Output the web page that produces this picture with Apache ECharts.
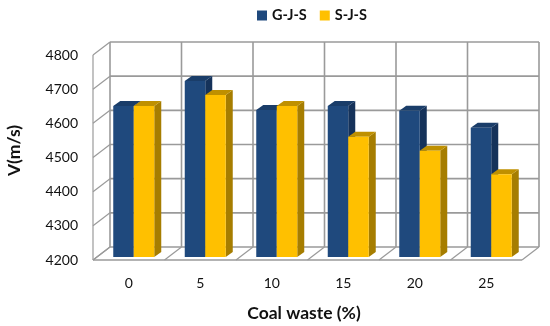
<!DOCTYPE html>
<html><head><meta charset="utf-8">
<style>html,body{margin:0;padding:0;background:#fff}#c{width:550px;height:326px}</style>
<script src="https://cdn.jsdelivr.net/npm/echarts@6/dist/echarts.min.js"></script>
</head><body><div id="c"></div>
<script>
const categories = ['0','5','10','15','20','25'];
const gjs = [4642,4715,4630,4642,4628,4578];
const sjs = [4642,4674,4642,4552,4511,4442];
const yTicks = [4200,4300,4400,4500,4600,4700,4800];
const boundaries = [0,1,2,3,4,5,6];
const DX = 17, DY = -13, GRID = '#9a9a9a';

const chart = echarts.init(document.getElementById('c'));

function line(p, q, w) {
  return {type:'line', shape:{x1:p[0],y1:p[1],x2:q[0],y2:q[1]}, style:{stroke:GRID,lineWidth:w}};
}
function xAt(api, b) {
  return api.coord([0, 4200])[0] + (b - 0.5) * api.size([1, 0])[0];
}
function renderTick(params, api) {
  const v = api.value(0);
  const y = api.coord([0, v])[1];
  const x0 = xAt(api, 0), x1 = xAt(api, 6);
  const kids = [
    line([x0, y], [x0 + DX, y + DY], 1.2),
    line([x0 + DX, y + DY], [x1 + DX, y + DY], 1.6)
  ];
  if (v === 4200) kids.push(line([x0, y], [x1, y], 1.6));
  return {type:'group', children:kids};
}
function renderBoundary(params, api) {
  const b = api.value(0);
  const x = xAt(api, b);
  const yb = api.coord([0, 4200])[1], yt = api.coord([0, 4800])[1];
  const kids = [
    line([x + DX, yb + DY], [x + DX, yt + DY], 1.6),
    line([x, yb], [x + DX, yb + DY], 1.2)
  ];
  if (b === 0) kids.push(line([x, yb], [x, yt], 1.2));
  return {type:'group', children:kids};
}
function barRenderer(slot, front, top, side) {
  return function (params, api) {
    const c = api.coord([api.value(0), api.value(1)]);
    const base = api.coord([api.value(0), 4200])[1] - 3;
    const w = 20.5, dx = 7, dy = -5;
    const x = c[0] + 5 - w + slot * w;
    const yT = c[1] - 3;
    const poly = (pts, fill) => ({type:'polygon', shape:{points:pts}, style:{fill:fill}});
    return {type:'group', children:[
      poly([[x+w,yT],[x+w+dx,yT+dy],[x+w+dx,base+dy],[x+w,base]], side),
      poly([[x,yT],[x+dx,yT+dy],[x+w+dx,yT+dy],[x+w,yT]], top),
      poly([[x,yT],[x+w,yT],[x+w,base],[x,base]], front)
    ]};
  };
}

chart.setOption({
  animation:false,
  textStyle:{fontFamily:'Lato'},
  legend:{
    data:['G-J-S','S-J-S'], left:257, top:8, padding:0, icon:'rect', itemWidth:10, itemHeight:10,
    itemGap:13, selectedMode:false,
    textStyle:{fontFamily:'Lato',fontWeight:'bold',fontSize:14.5,color:'#111'}
  },
  grid:{left:93,right:28,top:55,bottom:66,outerBoundsMode:'none',containLabel:false},
  xAxis:{
    type:'category', data:categories,
    axisLine:{show:false}, axisTick:{show:false}, splitLine:{show:false},
    axisLabel:{fontFamily:'Lato',fontSize:14,color:'#111',margin:16},
    name:'Coal waste (%)', nameLocation:'middle', nameGap:44,
    nameTextStyle:{fontFamily:'Lato',fontWeight:'bold',fontSize:17.5,color:'#111',padding:[0,7,0,0]}
  },
  yAxis:{
    type:'value', min:yTicks[0], max:yTicks[yTicks.length-1], interval:100,
    axisLine:{show:false}, axisTick:{show:false}, splitLine:{show:false},
    axisLabel:{fontFamily:'Lato',fontSize:14,color:'#111',margin:15,padding:[4,0,0,0],formatter:v=>String(v)},
    name:'V(m/s)', nameLocation:'middle', nameGap:70,
    nameTextStyle:{fontFamily:'Lato',fontWeight:'bold',fontSize:17.5,color:'#111',padding:[0,0,0,14]}
  },
  series:[
    {type:'custom', silent:true, z:1, data:yTicks.map(v=>[v]), renderItem:renderTick, encode:{}},
    {type:'custom', silent:true, z:1, data:boundaries.map(v=>[v]), renderItem:renderBoundary, encode:{}},
    {type:'custom', name:'G-J-S', z:2, itemStyle:{color:'#1F497D'},
     data:gjs.map((v,i)=>[i,v]), encode:{x:0,y:1},
     renderItem:barRenderer(0,'#1F497D','#1A3D69','#15325A')},
    {type:'custom', name:'S-J-S', z:3, itemStyle:{color:'#FFC000'},
     data:sjs.map((v,i)=>[i,v]), encode:{x:0,y:1},
     renderItem:barRenderer(1,'#FFC000','#BF9000','#A67D00')}
  ]
});
</script></body></html>
